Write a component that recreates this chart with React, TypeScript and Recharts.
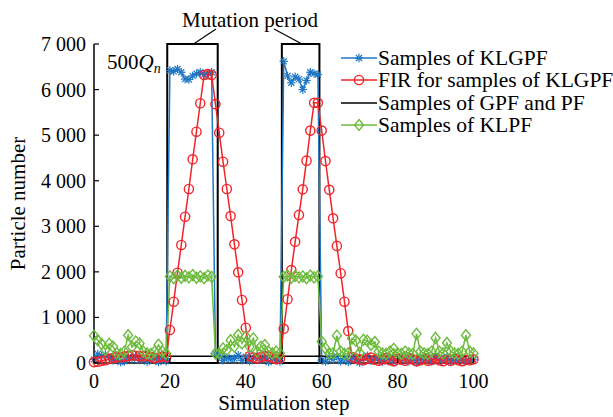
import React from "react";
import {
  LineChart,
  Line,
  XAxis,
  YAxis,
  ReferenceArea,
  Legend,
} from "recharts";

// simulation steps 0..100
const steps = Array.from({ length: 101 }, (_, i) => i);

const klgpfSamples = [
  80, 200, 150, 180, 120, 60, 100, 20, 40, 130, 90, 150, 60, 110, 30, 80, 140, 20, 90, 40,
  6420, 6400, 6450, 6380, 6230, 6220, 6300, 6350, 6380, 6330, 6360, 6380,
  200, 160, 60, 120, 90, 100, 170, 60, 140, 40, 110, 150, 70, 130, 20, 100, 60, 30,
  6620, 6300, 6150, 6280, 6230, 6000, 6200, 6380, 6350, 6330,
  60, 30, 120, 80, 150, 40, 100, 20, 130, 70, 10, 110, 160, 50, 90, 140, 30, 80, 120, 20,
  100, 60, 150, 40, 90, 10, 130, 70, 110, 30, 160, 50, 80, 140, 20, 100, 60, 120, 40, 90, 70,
];

const firSamples = [
  20, 30, 50, 60, 90, 110, 130, 120, 140, 150, 170, 160, 150, 140, 160, 130, 110, 120, 140, 130,
  724, 1345, 1982, 2590, 3210, 3818, 4470, 5076, 5700, 6320, 6340, 6320,
  5680, 5054, 4417, 3818, 3225, 2604, 1990, 1382, 775, 150,
  120, 100, 130, 150, 140, 110, 90, 100,
  750, 1400, 2040, 2660, 3250, 3810, 4440, 5100, 5710, 5710,
  5100, 4430, 3800, 3175, 2570, 1970, 1345, 700, 130,
  100, 80, 60, 90, 120, 70, 50, 80, 110, 60, 40, 90, 70, 50, 100, 80,
  40, 60, 90, 50, 70, 100, 60, 40, 80, 50, 90, 60, 40, 70, 60, 80,
];

const gpfPfSamples = [
  150, 150, 150, 150, 150, 150, 150, 150, 150, 150,
  150, 150, 150, 150, 150, 150, 150, 150, 150, 150,
  150, 150, 150, 150, 150, 150, 150, 150, 150, 150,
  150, 150, 150, 150, 150, 150, 150, 150, 150, 150,
  150, 150, 150, 150, 150, 150, 150, 150, 150, 150,
  150, 150, 150, 150, 150, 150, 150, 150, 150, 150,
  150, 150, 150, 150, 150, 150, 150, 150, 150, 150,
  150, 150, 150, 150, 150, 150, 150, 150, 150, 150,
  150, 150, 150, 150, 150, 150, 150, 150, 150, 150,
  150, 150, 150, 150, 150, 150, 150, 150, 150, 150,
  150,
];

const klpfSamples = [
  600, 500, 420, 290, 420, 360, 210, 200, 250, 610, 350, 470, 430, 250, 210, 200, 250, 400, 250, 210,
  1900, 1860, 1920, 1870, 1910, 1880, 1930, 1870, 1900, 1860, 1920, 1890,
  210, 210, 320, 285, 500, 360, 615, 430, 580, 360, 540, 250, 360, 395, 250, 210, 250, 210,
  1890, 1920, 1870, 1910, 1880, 1900, 1860, 1920, 1880, 1900,
  470, 320, 210, 210, 600, 250, 200, 210, 540, 490, 220, 510, 490, 400, 460, 250, 210, 200, 250, 310,
  210, 200, 250, 210, 200, 640, 250, 210, 200, 250, 550, 250, 210, 440, 250, 210, 200, 250, 610, 250, 210,
];

const xTicks = [0, 20, 40, 60, 80, 100];
const yTicks = [0, 1000, 2000, 3000, 4000, 5000, 6000, 7000];

// mutation period boxes
const mutationPeriods = [
  { x1: 19.3, x2: 32.6 },
  { x1: 49.5, x2: 59.4 },
];

const legendOrder = ["klgpf", "fir", "gpf", "klpf"];

const data = steps.map((s, i) => ({
  step: s,
  klgpf: klgpfSamples[i],
  fir: firSamples[i],
  gpf: gpfPfSamples[i],
  klpf: klpfSamples[i],
}));

const BLUE = "#1f77c4";
const RED = "#f0242a";
const GREEN = "#6cbb3c";
const FONT = "'Liberation Serif', 'Times New Roman', serif";

const Star = ({ cx, cy, color }: any) => {
  const s = 4.2;
  const d = s * 0.72;
  return (
    <g stroke={color} strokeWidth={1.2}>
      <line x1={cx - s} y1={cy} x2={cx + s} y2={cy} />
      <line x1={cx} y1={cy - s} x2={cx} y2={cy + s} />
      <line x1={cx - d} y1={cy - d} x2={cx + d} y2={cy + d} />
      <line x1={cx - d} y1={cy + d} x2={cx + d} y2={cy - d} />
    </g>
  );
};

const Circle = ({ cx, cy, color }: any) => (
  <circle cx={cx} cy={cy} r={4.6} fill="none" stroke={color} strokeWidth={1.4} />
);

const Diamond = ({ cx, cy, color }: any) => (
  <path
    d={`M${cx},${cy - 5.5}L${cx + 4.5},${cy}L${cx},${cy + 5.5}L${cx - 4.5},${cy}Z`}
    fill="none"
    stroke={color}
    strokeWidth={1.4}
  />
);

const markers: any = { klgpf: Star, fir: Circle, klpf: Diamond };

const fmt = (v: number) => String(v).replace(/\B(?=(\d{3})+(?!\d))/g, " ");

const XTick = ({ x, y, payload }: any) => (
  <g>
    <line x1={x} x2={x} y1={y - 11} y2={y - 16} stroke="#000" strokeWidth={1.2} />
    <text x={x} y={y} dy="0.71em" textAnchor="middle" fill="#000" fontSize={20} fontFamily={FONT}>
      {payload.value}
    </text>
  </g>
);

const YTick = ({ x, y, payload }: any) => (
  <g>
    <line x1={x + 8} x2={x + 13} y1={y} y2={y} stroke="#000" strokeWidth={1.2} />
    <text x={x} y={y} dy="0.35em" textAnchor="end" fill="#000" fontSize={20} fontFamily={FONT}>
      {fmt(payload.value)}
    </text>
  </g>
);

const renderLegend = (props: any) => {
  const payload = [...props.payload].sort(
    (a: any, b: any) => legendOrder.indexOf(a.dataKey) - legendOrder.indexOf(b.dataKey)
  );
  return (
    <div style={{ fontFamily: FONT, fontSize: 21.5, color: "#000" }}>
      {payload.map((entry: any) => {
        const M = markers[entry.dataKey];
        return (
          <div
            key={entry.dataKey}
            style={{ display: "flex", alignItems: "center", height: 22.3, lineHeight: "22.3px" }}
          >
            <svg width={36} height={22} style={{ flex: "none" }}>
              <line x1={0} x2={36} y1={11} y2={11} stroke={entry.color} strokeWidth={1.5} />
              {M && <M cx={18} cy={11} color={entry.color} />}
            </svg>
            <span style={{ marginLeft: 1, whiteSpace: "nowrap" }}>{entry.value}</span>
          </div>
        );
      })}
    </div>
  );
};

export default function App() {
  return (
    <div
      style={{
        position: "absolute",
        left: 0,
        top: 0,
        width: 613,
        height: 417,
        background: "#fff",
        fontFamily: FONT,
      }}
    >
      <LineChart
        width={613}
        height={417}
        data={data}
        margin={{ top: 44, right: 139.5, bottom: 24, left: 34 }}
        style={{ fontFamily: FONT }}
      >
        <XAxis
          dataKey="step"
          type="number"
          domain={[0, 100]}
          ticks={xTicks}
          tickSize={0}
          tickMargin={11}
          tick={<XTick />}
          axisLine={{ stroke: "#000", strokeWidth: 1.5 }}
          height={30}
          label={{
            value: "Simulation step",
            position: "insideBottom",
            offset: -17,
            fill: "#000",
            fontSize: 21,
            fontFamily: FONT,
          }}
        />
        <YAxis
          type="number"
          domain={[0, 7000]}
          ticks={yTicks}
          tickSize={0}
          tickMargin={8}
          tick={<YTick />}
          axisLine={{ stroke: "#000", strokeWidth: 1.5 }}
          width={60}
          label={{
            value: "Particle number",
            angle: -90,
            position: "insideLeft",
            offset: -16,
            fill: "#000",
            fontSize: 21,
            fontFamily: FONT,
            style: { textAnchor: "middle" },
          }}
        />
        {mutationPeriods.map((p, i) => (
          <ReferenceArea
            key={i}
            x1={p.x1}
            x2={p.x2}
            y1={0}
            y2={7000}
            fill="none"
            fillOpacity={0}
            stroke="#000"
            strokeWidth={2}
            ifOverflow="visible"
          />
        ))}
        <Line
          dataKey="klgpf"
          name="Samples of KLGPF"
          stroke={BLUE}
          strokeWidth={1.5}
          isAnimationActive={false}
          activeDot={false}
          dot={(p: any) => <Star key={`b${p.index}`} cx={p.cx} cy={p.cy} color={BLUE} />}
        />
        <Line
          dataKey="fir"
          name="FIR for samples of KLGPF"
          stroke={RED}
          strokeWidth={1.5}
          isAnimationActive={false}
          activeDot={false}
          dot={(p: any) => <Circle key={`r${p.index}`} cx={p.cx} cy={p.cy} color={RED} />}
        />
        <Line
          dataKey="gpf"
          name="Samples of GPF and PF"
          stroke="#000"
          strokeWidth={1.5}
          isAnimationActive={false}
          activeDot={false}
          dot={false}
        />
        <Line
          dataKey="klpf"
          name="Samples of KLPF"
          stroke={GREEN}
          strokeWidth={1.5}
          isAnimationActive={false}
          activeDot={false}
          dot={(p: any) => <Diamond key={`g${p.index}`} cx={p.cx} cy={p.cy} color={GREEN} />}
        />
        <Legend
          layout="horizontal"
          align="center"
          verticalAlign="middle"
          content={renderLegend}
          wrapperStyle={{ left: 341, top: 47, width: 272, height: "auto" }}
        />
      </LineChart>
      <svg
        width={613}
        height={417}
        style={{ position: "absolute", left: 0, top: 0, pointerEvents: "none", fontFamily: FONT }}
      >
        <line x1={193.5} y1={44} x2={216} y2={29} stroke="#000" strokeWidth={1.2} />
        <line x1={302} y1={44} x2={274} y2={29} stroke="#000" strokeWidth={1.2} />
        <text x={250} y={27} textAnchor="middle" fontSize={21} fill="#000">
          Mutation period
        </text>
        <text x={107} y={69} fontSize={21} fill="#000">
          500
          <tspan fontStyle="italic">Q</tspan>
          <tspan fontStyle="italic" fontSize={14} dy={4}>
            n
          </tspan>
        </text>
      </svg>
    </div>
  );
}
